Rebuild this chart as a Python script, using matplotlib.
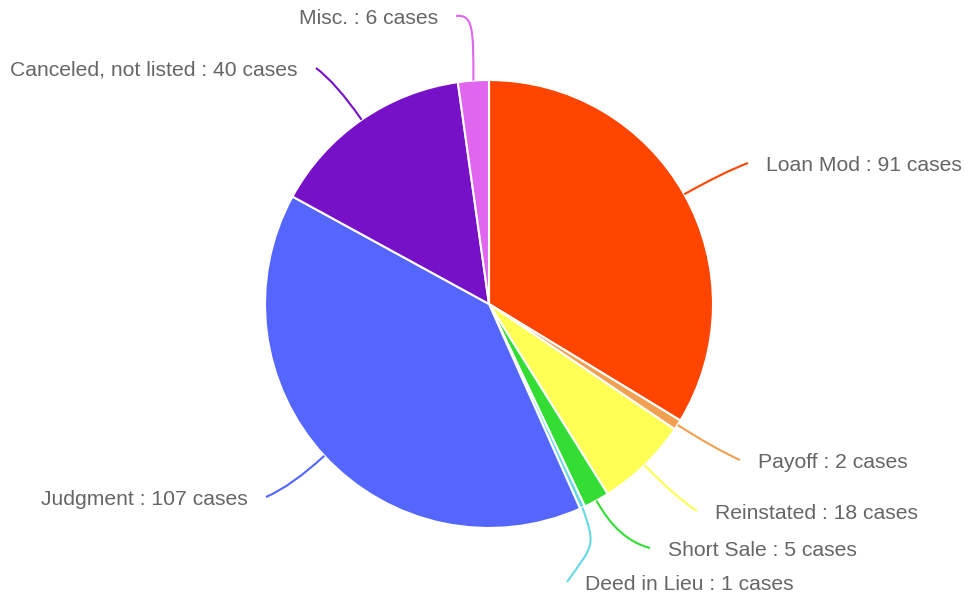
import numpy as np
import matplotlib.pyplot as plt
from matplotlib.path import Path
from matplotlib.patches import PathPatch

labels = ["Loan Mod", "Payoff", "Reinstated", "Short Sale", "Deed in Lieu",
          "Judgment", "Canceled, not listed", "Misc."]
cases = [91, 2, 18, 5, 1, 107, 40, 6]
colors = ["#FF4500", "#F0A050", "#FFFF55", "#33DD33", "#66D9E0",
          "#5566FF", "#7711C8", "#E066F0"]

# label anchor (where the leader ends) in pixel coords, y from top
label_ends = [(748, 163), (740, 460), (697, 511), (650, 548), (567, 582),
              (266, 497), (316, 68), (456, 16)]

W, H = 965, 599
cx, cy, r = 489, 304, 224

fig = plt.figure(figsize=(W / 100, H / 100), dpi=100)
ax = fig.add_axes([0, 0, 1, 1])
ax.set_xlim(0, W)
ax.set_ylim(0, H)
ax.set_aspect("equal")
ax.axis("off")

ax.pie(cases, colors=colors, startangle=90, counterclock=False,
       center=(cx, H - cy), radius=r,
       wedgeprops=dict(edgecolor="white", linewidth=1.5))
ax.set_xlim(0, W)
ax.set_ylim(0, H)

total = sum(cases)
cum = np.cumsum([0] + cases)
for i, (lab, val) in enumerate(zip(labels, cases)):
    mid = (cum[i] + val / 2) / total * 2 * np.pi
    sx, sy = np.sin(mid), np.cos(mid)
    p0 = (cx + r * sx, H - cy + r * sy)
    p1 = (cx + r * 1.2 * sx, H - cy + r * 1.2 * sy)
    ex, ey = label_ends[i]
    p2 = (ex, H - ey)
    if lab == "Deed in Lieu":
        verts = [p0, (p0[0] + 14, p0[1] - 40), (593, H - 545), p2]
        codes = [Path.MOVETO, Path.CURVE4, Path.CURVE4, Path.CURVE4]
    elif lab == "Misc.":
        verts = [p0, (p0[0], H - 30), (p0[0], H - 14), p2]
        codes = [Path.MOVETO, Path.CURVE4, Path.CURVE4, Path.CURVE4]
    else:
        verts = [p0, p1, p2]
        codes = [Path.MOVETO, Path.CURVE3, Path.CURVE3]
    ax.add_patch(PathPatch(Path(verts, codes), fill=False,
                           edgecolor=colors[i], linewidth=1.5))
    right = sx > 0
    tx = ex + 18 if right else ex - 18
    ax.text(tx, H - ey - 2.5, f"{lab} : {val} cases", fontsize=15.2,
            family="Liberation Sans", color="#666666",
            ha="left" if right else "right", va="center")

fig.savefig("out.png", dpi=100, facecolor="white")
